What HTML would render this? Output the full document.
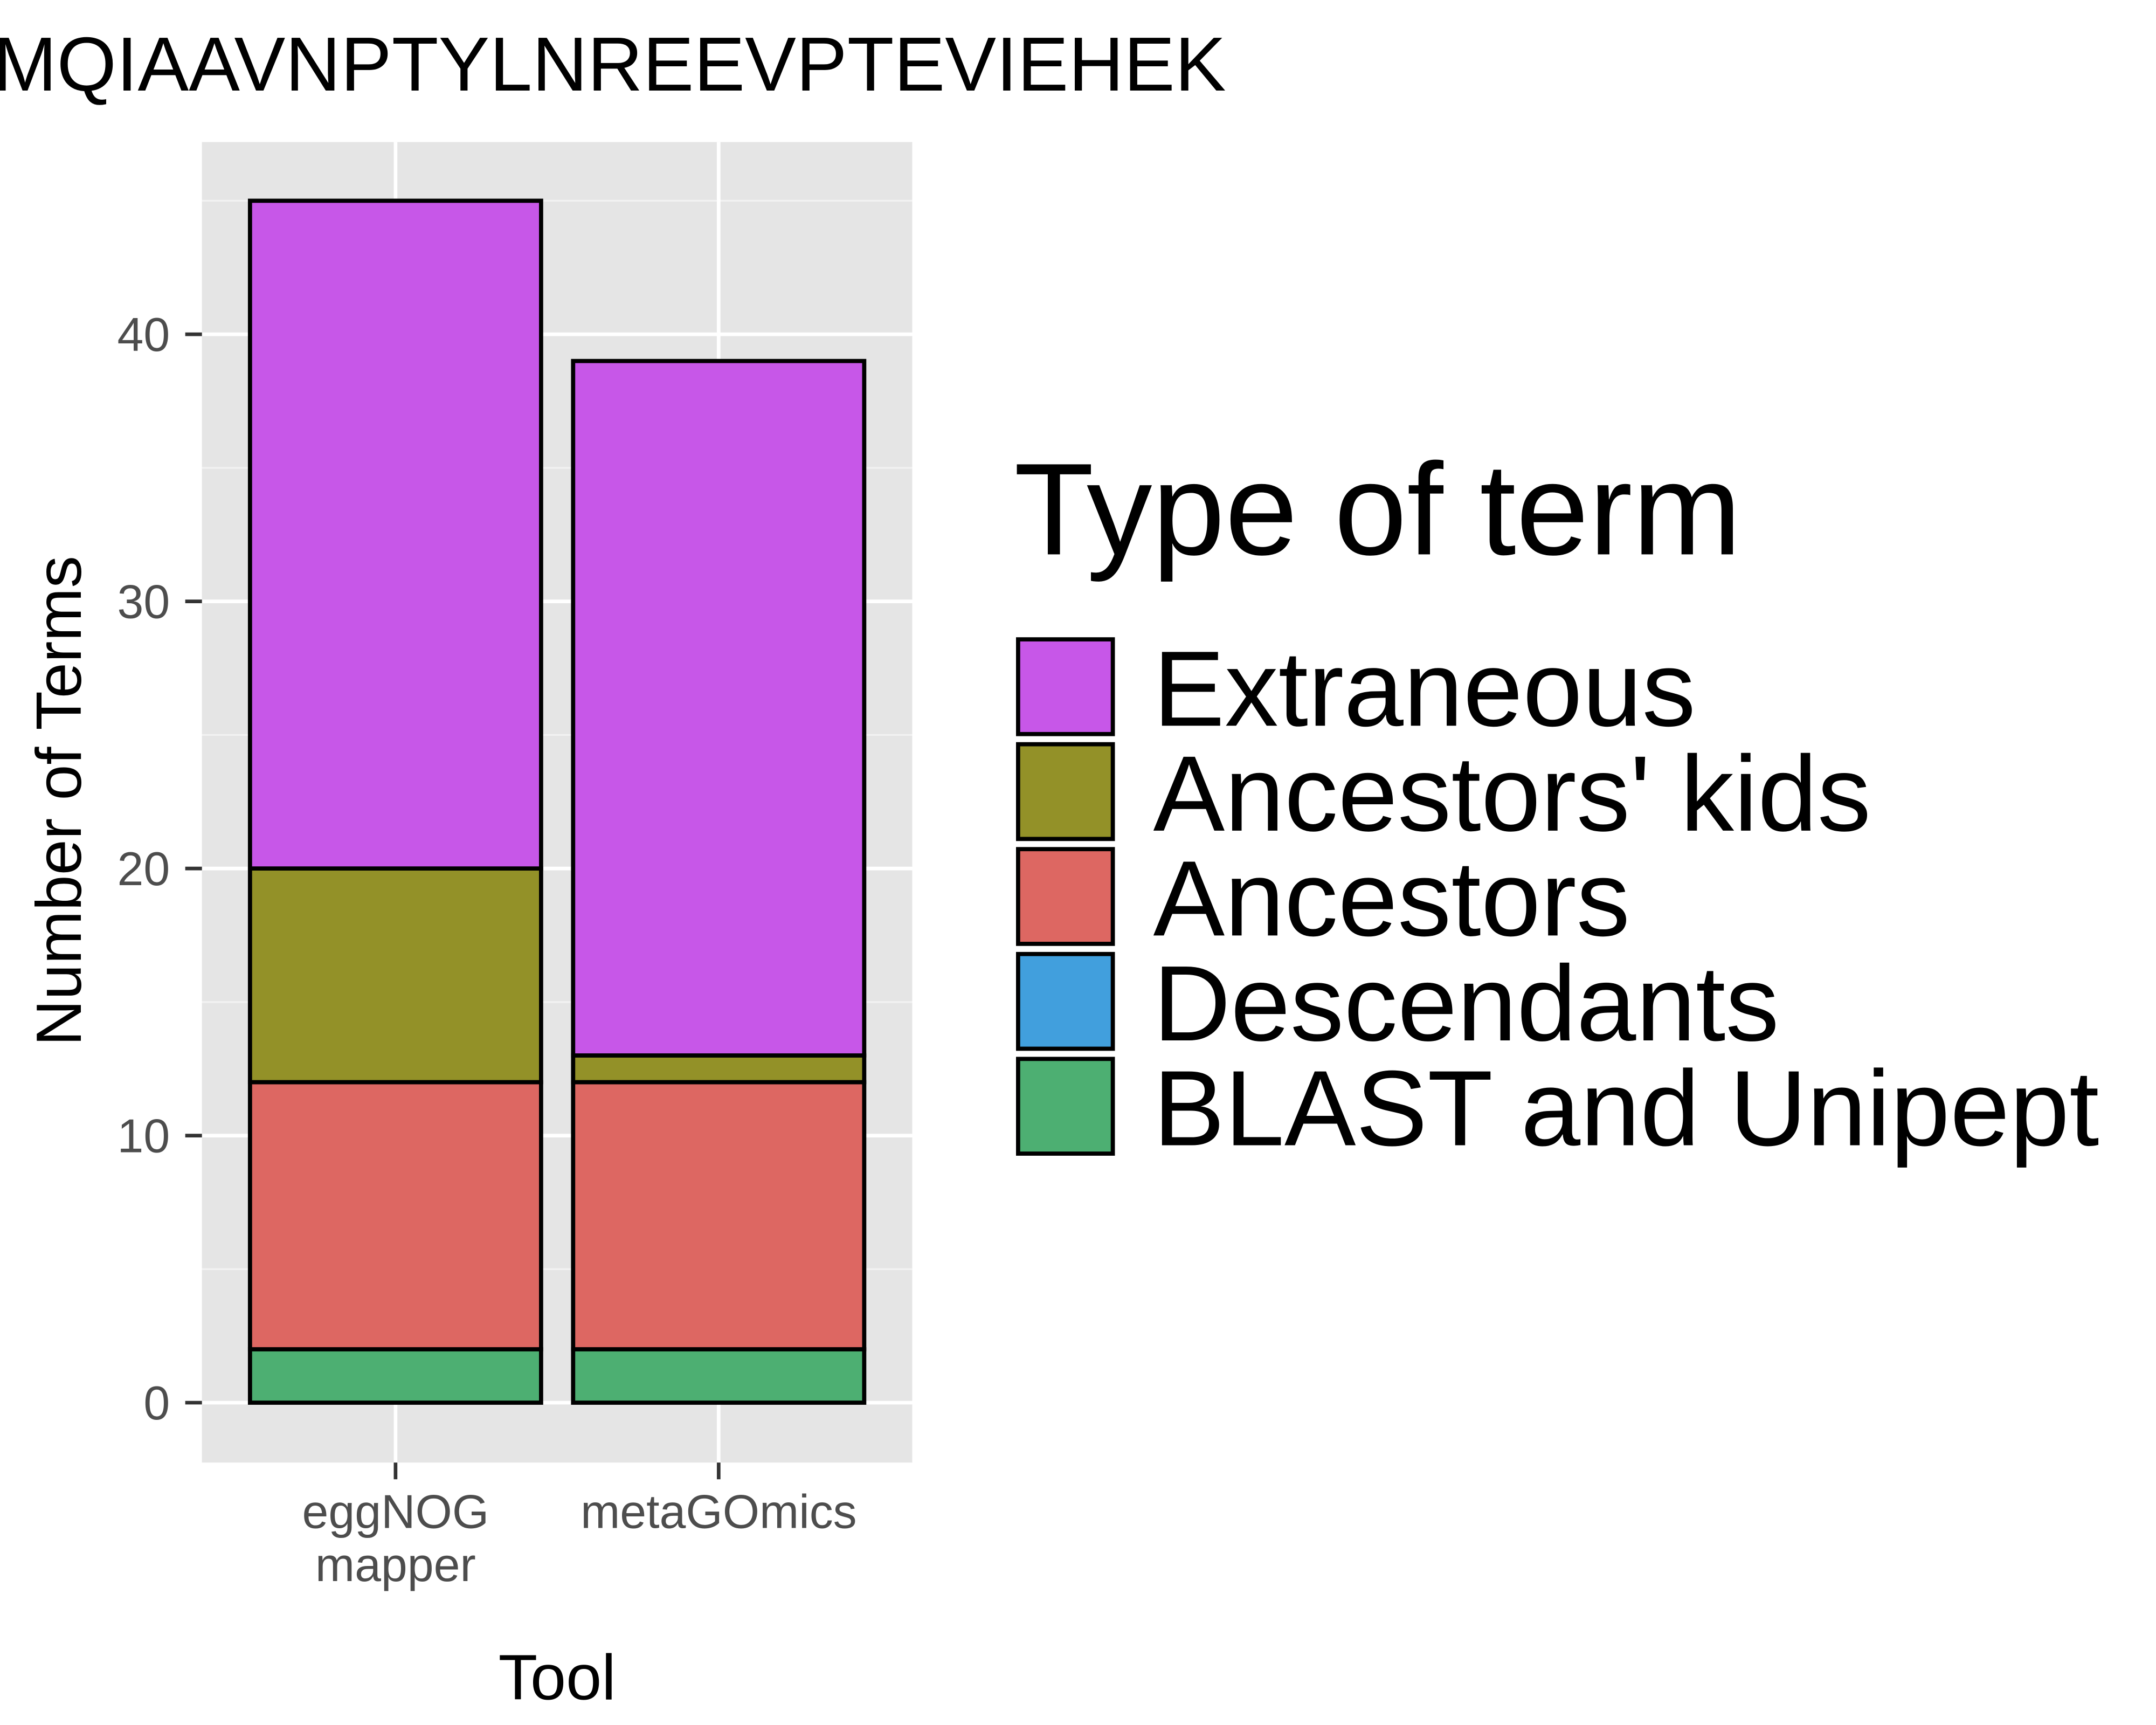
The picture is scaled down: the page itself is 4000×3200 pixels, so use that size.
<!DOCTYPE html>
<html><head><meta charset="utf-8"><style>html,body{margin:0;padding:0;background:#fff}svg{display:block}</style></head>
<body>
<svg width="4000" height="3200" viewBox="0 0 1548 1238.4" xmlns="http://www.w3.org/2000/svg" font-family="Liberation Sans, Arial, sans-serif">
<rect width="1548" height="1238.4" fill="#fff"/>
<text x="-5" y="65" font-size="55" fill="#000">MQIAAVNPTYLNREEVPTEVIEHEK</text>
<rect x="145" y="102" width="510" height="948" fill="#e5e5e5"/>
<g id="grid"></g>
<g id="bars"></g>
<g id="yaxis"></g>
<g id="xaxis"></g>
<text transform="translate(58,575) rotate(-90)" text-anchor="middle" font-size="46" fill="#000">Number of Terms</text>
<text x="400" y="1220" text-anchor="middle" font-size="46" fill="#000">Tool</text>
<g>
<text x="728" y="398" font-size="94" fill="#000">Type of term</text>
<g id="legend"></g>
</g>
<script>
const categories = ["eggNOG|mapper", "metaGOmics"];
const seriesNames = ["BLAST and Unipept", "Descendants", "Ancestors", "Ancestors' kids", "Extraneous"];
const seriesColors = ["#4daf72", "#419fdd", "#dd6762", "#939128", "#c757e8"];
const blastVals = [2, 2];
const descVals = [0, 0];
const ancVals = [10, 10];
const kidsVals = [8, 1];
const extraVals = [25, 26];
const yTicks = [0, 10, 20, 30, 40];

const NS = "http://www.w3.org/2000/svg";
const y = v => 1007 - v * 19.175;
const xc = i => 284 + i * 232;
const bw = 209;
function mk(tag, attrs, parent) { const e = document.createElementNS(NS, tag); for (const k in attrs) e.setAttribute(k, attrs[k]); parent.appendChild(e); return e; }
const grid = document.getElementById('grid');
for (let v = 5; v <= 45; v += 10) {
  const l = mk('line', {x1:145, x2:655, y1:y(v), y2:y(v), stroke:'#f2f2f2', 'stroke-width':1.3}, grid);
  
  
}
yTicks.forEach(v => {
  const l = mk('line', {x1:145, x2:655, y1:y(v), y2:y(v), stroke:'#fff', 'stroke-width':2.6}, grid);
  
  
});
categories.forEach((c, i) => {
  const l = mk('line', {x1:xc(i), x2:xc(i), y1:102, y2:1050, stroke:'#fff', 'stroke-width':2.6}, grid);
  
  
});
const series = [blastVals, descVals, ancVals, kidsVals, extraVals];
const bars = document.getElementById('bars');
categories.forEach((c, i) => {
  let base = 0;
  series.forEach((s, k) => {
    const v = s[i];
    if (v > 0) {
      const r = mk('rect', {x:xc(i)-bw/2, y:y(base+v), width:bw, height:y(base)-y(base+v), fill:seriesColors[k], stroke:'#000', 'stroke-width':3}, bars);
      
      
    }
    base += v;
  });
});
const ya = document.getElementById('yaxis');
yTicks.forEach(v => {
  const t = mk('line', {x1:133, x2:145, y1:y(v), y2:y(v), stroke:'#333', 'stroke-width':2.6}, ya);
  
  
  const tx = mk('text', {x:122, y:y(v)+12, 'text-anchor':'end', 'font-size':34, fill:'#4d4d4d'}, ya);
  tx.textContent = v;
  
  
});
const xa = document.getElementById('xaxis');
categories.forEach((c, i) => {
  const t = mk('line', {x1:xc(i), x2:xc(i), y1:1050, y2:1062, stroke:'#333', 'stroke-width':2.6}, xa);
  
  
  c.split('|').forEach((line, j) => {
    const tx = mk('text', {x:xc(i), y:1097+j*38, 'text-anchor':'middle', 'font-size':34, fill:'#4d4d4d'}, xa);
    tx.textContent = line;
    
    
  });
});
const lg = document.getElementById('legend');
const order = [4, 3, 2, 1, 0];
order.forEach((k, j) => {
  const top = 459 + j * 75.3;
  const r = mk('rect', {x:731, y:top, width:68, height:68, fill:seriesColors[k], stroke:'#000', 'stroke-width':3}, lg);
  
  
  const tx = mk('text', {x:828, y:top+62, 'font-size':77, fill:'#000'}, lg);
  tx.textContent = seriesNames[k];
  
  
});
</script>
</svg>
</body></html>
